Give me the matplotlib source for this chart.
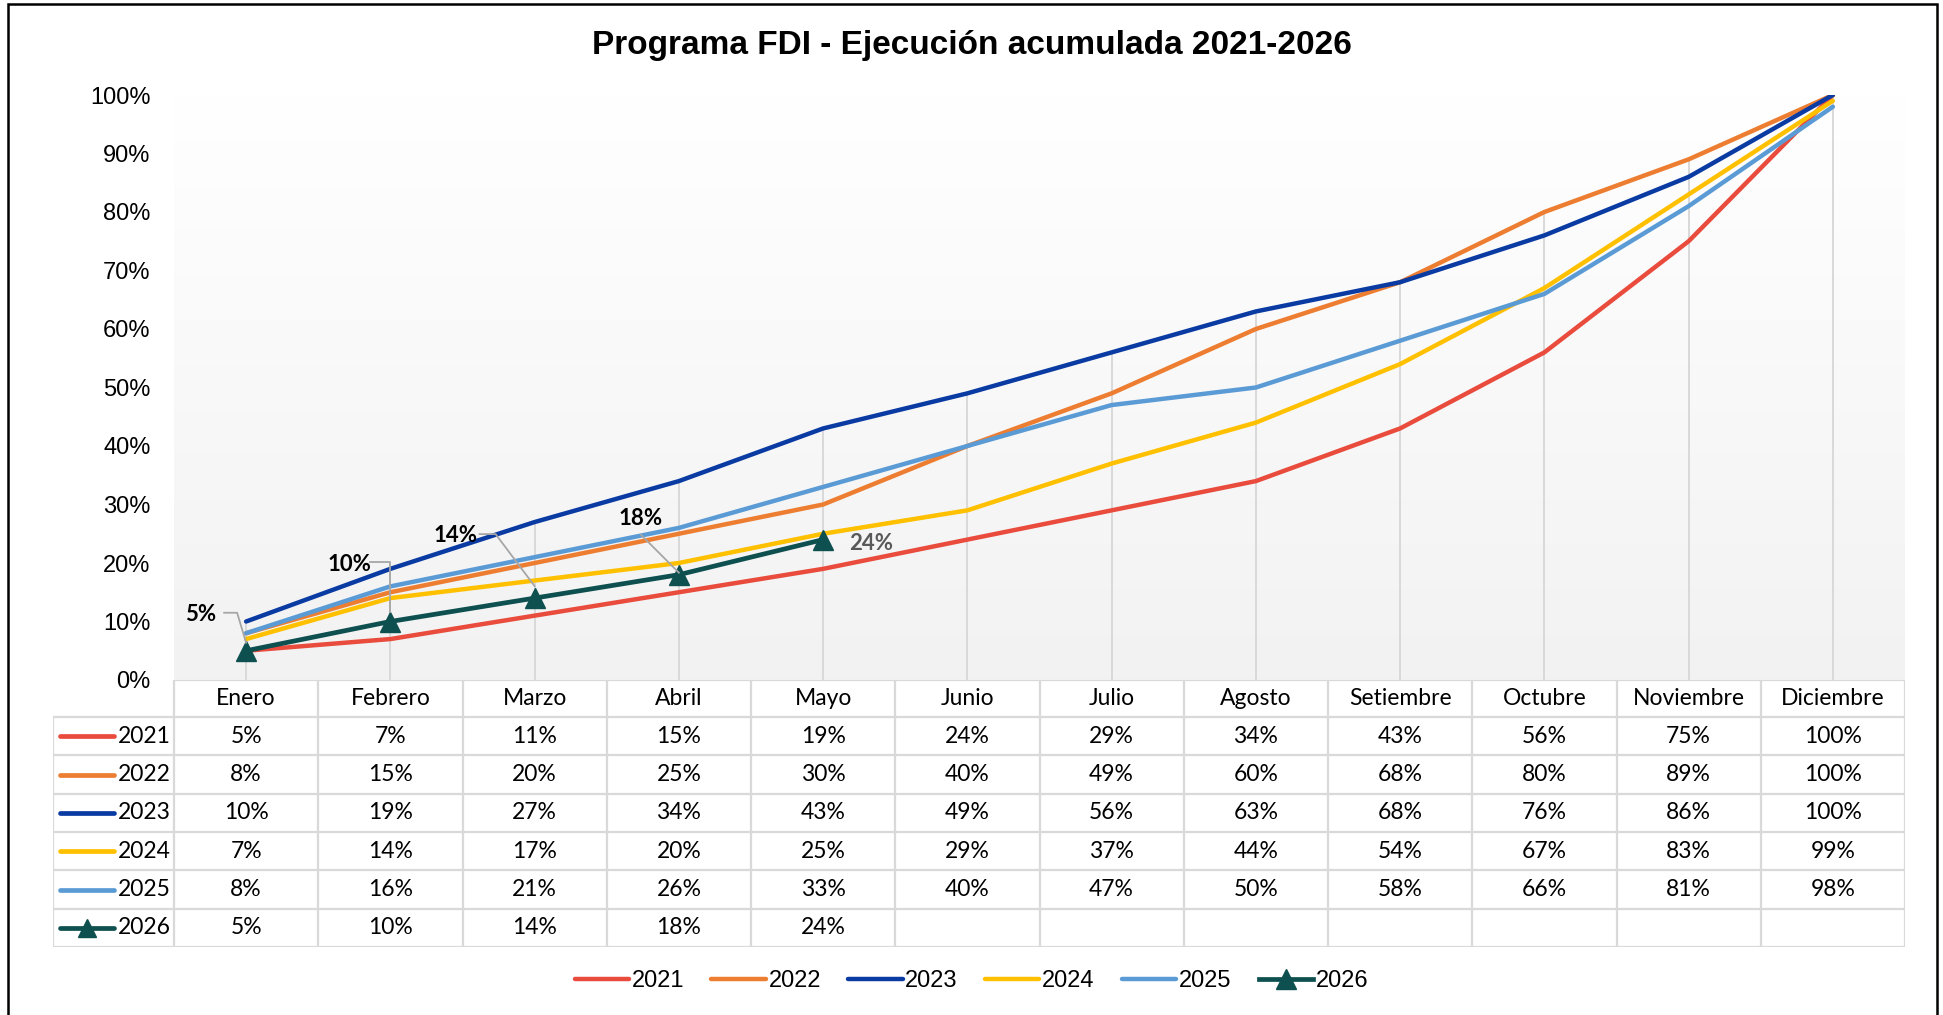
import matplotlib
matplotlib.use("Agg")
import matplotlib.pyplot as plt
from matplotlib.patches import Rectangle
import numpy as np

plt.rcParams['font.family'] = ['Liberation Sans', 'DejaVu Sans']

# data
months = ["Enero", "Febrero", "Marzo", "Abril", "Mayo", "Junio", "Julio",
          "Agosto", "Setiembre", "Octubre", "Noviembre", "Diciembre"]
years = ["2021", "2022", "2023", "2024", "2025", "2026"]
v2021 = [5, 7, 11, 15, 19, 24, 29, 34, 43, 56, 75, 100]
v2022 = [8, 15, 20, 25, 30, 40, 49, 60, 68, 80, 89, 100]
v2023 = [10, 19, 27, 34, 43, 49, 56, 63, 68, 76, 86, 100]
v2024 = [7, 14, 17, 20, 25, 29, 37, 44, 54, 67, 83, 99]
v2025 = [8, 16, 21, 26, 33, 40, 47, 50, 58, 66, 81, 98]
v2026 = [5, 10, 14, 18, 24]
series = [v2021, v2022, v2023, v2024, v2025, v2026]
colors = ["#E94B3C", "#ED7D31", "#0A3BA3", "#FFC000", "#5B9BD5", "#0E4F4F"]

W, H = 1943, 1015
fig = plt.figure(figsize=(W / 100, H / 100), dpi=100)


def box(x0, y0, x1, y1):
    # pixel box (top-left origin) -> figure fraction rect
    return [x0 / W, 1 - y1 / H, (x1 - x0) / W, (y1 - y0) / H]


fig.text(0.5, 1 - 45 / H, "Programa FDI - Ejecución acumulada 2021-2026",
         ha="center", va="center", fontsize=24, fontweight="bold")

ax = fig.add_axes(box(174, 95, 1905, 680))
x = np.arange(len(months))
ax.set_xlim(-0.5, 11.5)
ax.set_ylim(0, 1)

# background gradient white -> light grey
grad = np.linspace(1.0, 0.949, 256).reshape(-1, 1)
ax.imshow(np.dstack([grad] * 3), extent=(-0.5, 11.5, 0, 1), aspect="auto",
          origin="upper", zorder=0)

# drop lines up to the highest point of each month
tops = [max(s[i] for s in series if i < len(s)) / 100 for i in range(len(months))]
ax.vlines(x, 0, tops, color="#D9D9D9", lw=1.4, zorder=1)

handles = []
for yr, vals, c in zip(years, series, colors):
    y = np.array(vals) / 100
    if yr == "2026":
        h, = ax.plot(x[:len(y)], y, color=c, lw=3.4, marker="^", ms=15,
                     solid_joinstyle="round", zorder=4)
    else:
        h, = ax.plot(x[:len(y)], y, color=c, lw=3.2, solid_joinstyle="round",
                     solid_capstyle="round", zorder=3)
    handles.append(h)

ax.set_yticks(np.arange(0, 1.01, 0.1))
ax.set_yticklabels([f"{int(round(t * 100))}%" for t in np.arange(0, 1.01, 0.1)],
                   fontsize=17)
ax.tick_params(axis="y", length=0, pad=17)
ax.set_xticks([])
for sp in ax.spines.values():
    sp.set_visible(False)

# data labels for 2026: (dx, dy) pixel offset of label, leader path in pixels
lab_off = [(-45, 36), (-41, 57), (-79, 63), (-38, 56), (26, -4)]
leaders = [
    [(-22, 38), (-9, 38), (0, 8)],
    [(-20, 60), (0, 60), (0, 10)],
    [(-55, 64), (-39, 64), (0, 12)],
    [(-38, 40), (0, 2)],
    None,
]
inv = ax.transData.inverted()
for i, v in enumerate(v2026):
    px0, py0 = ax.transData.transform((x[i], v / 100))
    dx, dy = lab_off[i]
    col = "#595959" if i == len(v2026) - 1 else "black"
    ha = "left" if i == len(v2026) - 1 else "center"
    ax.annotate(f"{v}%", (x[i], v / 100), xytext=(dx, dy),
                textcoords="offset pixels", ha=ha, va="center",
                fontsize=16, fontweight="bold", family="Lato", color=col,
                zorder=6)
    if leaders[i]:
        pts = inv.transform([(px0 + a, py0 + b) for a, b in leaders[i]])
        ax.plot(pts[:, 0], pts[:, 1], color="#A6A6A6", lw=1.3, zorder=5)

# data table under the chart
tax = fig.add_axes(box(53, 680, 1905, 947))
col_w = (1905 - 174) / 12
lab_left = -0.5 - (174 - 53) / col_w
hdr = 37 / 38.3
tax.set_xlim(lab_left, 11.5)
tax.set_ylim(hdr + 6, 0)
tax.axis("off")
gc = "#D9D9D9"
glw = 1.6
tax.hlines([0], -0.5, 11.5, color=gc, lw=glw)
tax.hlines([hdr + k for k in range(7)], lab_left, 11.5, color=gc, lw=glw)
tax.vlines([-0.5 + k for k in range(13)], 0, hdr + 6, color=gc, lw=glw)
tax.vlines([lab_left], hdr, hdr + 6, color=gc, lw=glw)

for j, m in enumerate(months):
    tax.text(j, hdr / 2, m, ha="center", va="center", fontsize=16.5, family="Lato")
for r, (yr, vals, c) in enumerate(zip(years, series, colors)):
    yc = hdr + r + 0.5
    for j, v in enumerate(vals):
        tax.text(j, yc, f"{v}%", ha="center", va="center", fontsize=16.5,
                 family="Lato")
    x0 = lab_left + (60 - 53) / col_w
    x1 = lab_left + (114 - 53) / col_w
    tax.plot([x0, x1], [yc, yc], color=c, lw=3.4, solid_capstyle="round")
    if yr == "2026":
        tax.plot([(x0 + x1) / 2], [yc], marker="^", ms=13, color=c)
    tax.text(lab_left + (118 - 53) / col_w, yc, yr, ha="left", va="center",
             fontsize=16.5, family="Lato")

fig.legend(handles, years, loc="center", bbox_to_anchor=(0.5, 1 - 981 / H),
           ncol=6, frameon=False, fontsize=17, handlelength=2.3,
           handletextpad=0.12, columnspacing=1.15)

fig.add_artist(Rectangle((8 / W, -0.01), (1937 - 8) / W, 1 - 4 / H + 0.01,
                         transform=fig.transFigure, fill=False,
                         ec="black", lw=1.8))

fig.savefig("out.png", dpi=100)
